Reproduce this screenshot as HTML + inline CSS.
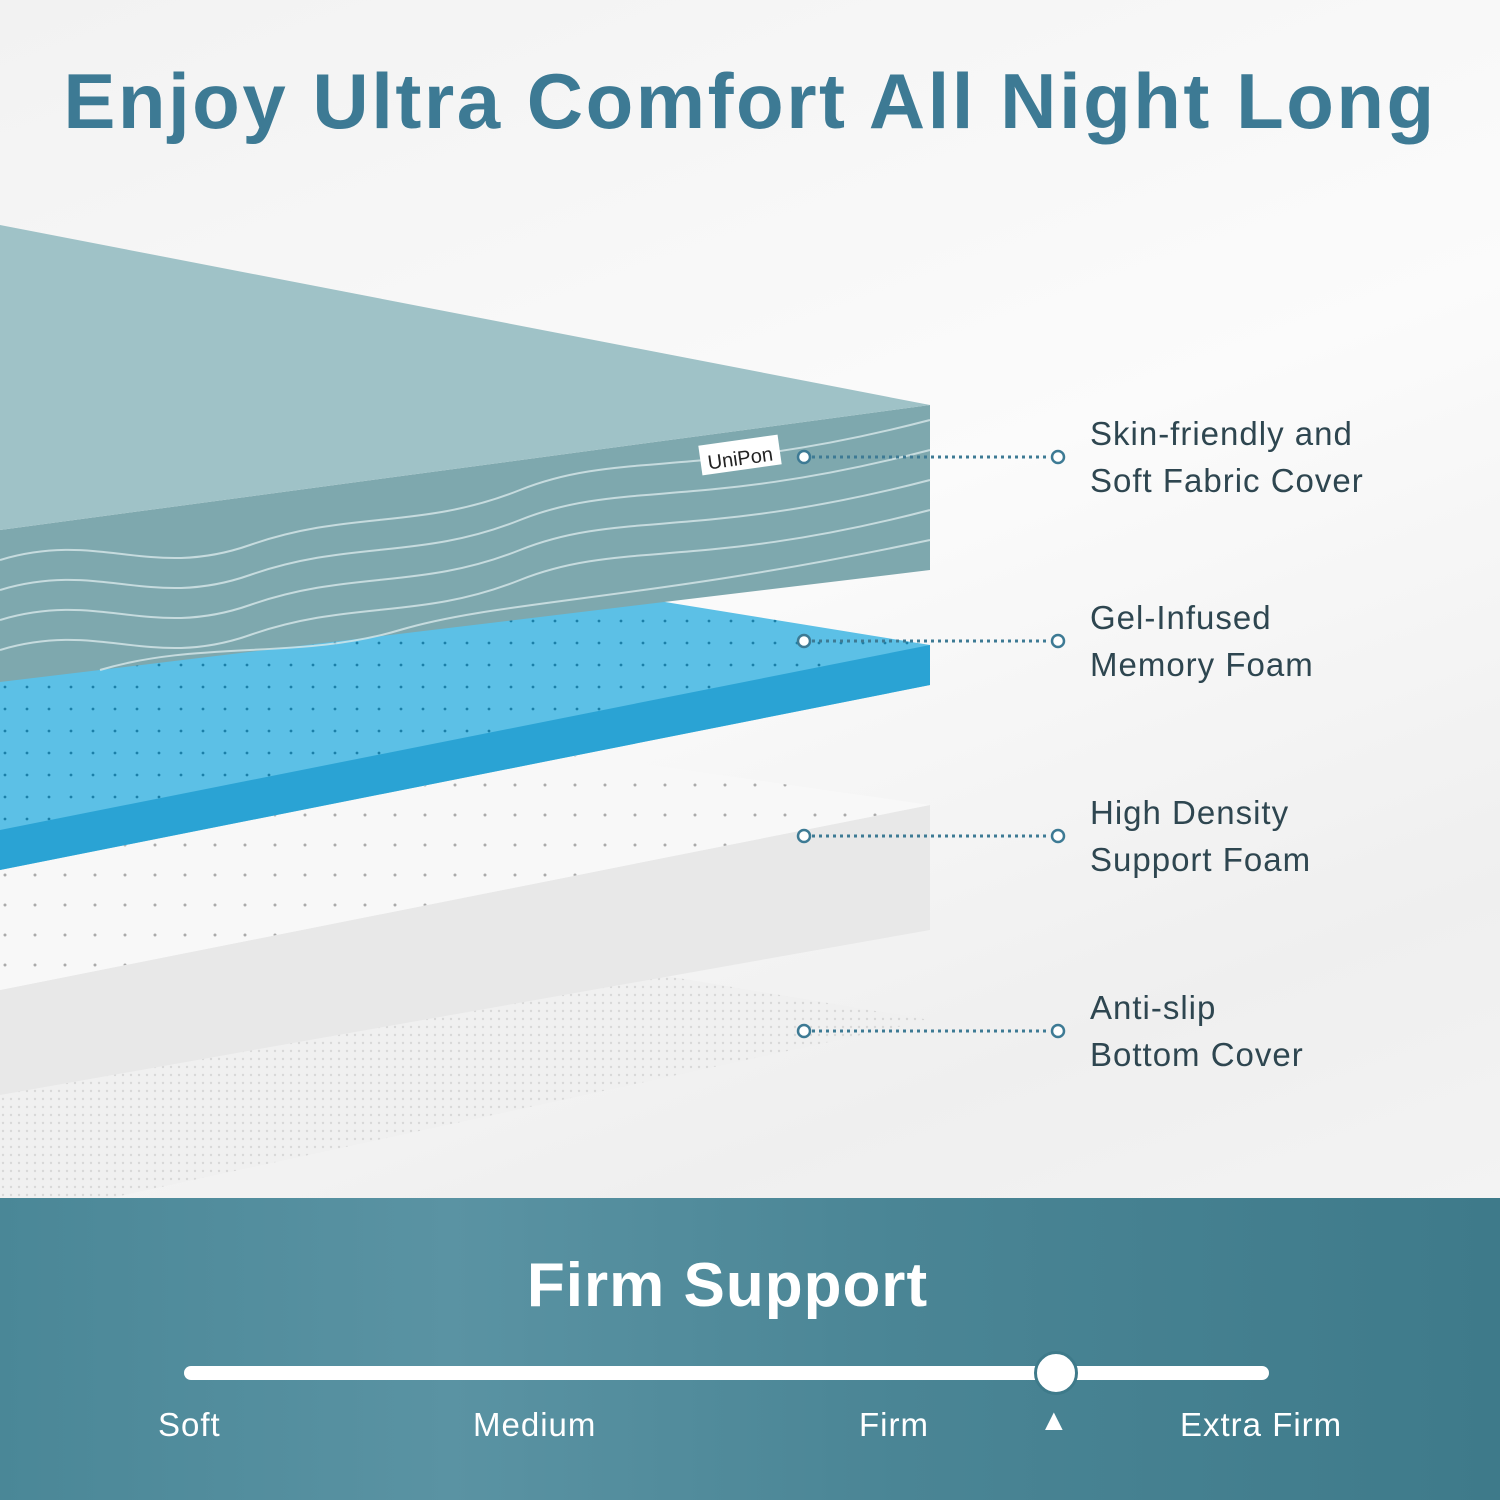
<!DOCTYPE html>
<html><head><meta charset="utf-8"><style>
html,body{margin:0;padding:0}
body{width:1500px;height:1500px;position:relative;overflow:hidden;font-family:"Liberation Sans",sans-serif;background:linear-gradient(160deg,#f2f2f2 0%,#fbfbfb 40%,#efefef 70%,#f7f7f7 100%)}
.t{position:absolute;white-space:nowrap}
h1{position:absolute;top:56px;left:0;width:1500px;text-align:center;margin:0;font-size:78px;font-weight:bold;color:#3d7a94;letter-spacing:2.5px}
.lab{position:absolute;left:1090px;font-size:33px;line-height:47px;color:#2e4650;letter-spacing:1px}
.band{position:absolute;left:0;top:1198px;width:1500px;height:302px;background:linear-gradient(90deg,#4a8797 0%,#5a93a3 30%,#4a8595 60%,#3e7a8a 100%)}
.w{color:#fff;font-size:33px;letter-spacing:1px}
</style></head><body>
<h1>Enjoy Ultra Comfort All Night Long</h1>
<svg width="1500" height="1500" style="position:absolute;left:0;top:0">
<defs>
<pattern id="dots" width="22" height="22" patternUnits="userSpaceOnUse"><circle cx="5" cy="5" r="1.4" fill="#1b7fa8"/></pattern>
<pattern id="dots2" width="30" height="30" patternUnits="userSpaceOnUse"><circle cx="5" cy="5" r="1.5" fill="#aaa"/></pattern>
<pattern id="dots3" width="8" height="8" patternUnits="userSpaceOnUse"><circle cx="3" cy="3" r="1.2" fill="#d8d8d8"/></pattern>
</defs>
<polygon points="0,1095 600,965 930,1020 0,1222" fill="#f0f0f0"/>
<polygon points="0,1095 600,965 930,1020 0,1222" fill="url(#dots3)"/>
<polygon points="0,990 930,805 930,930 0,1095" fill="#e8e8e8"/>
<polygon points="0,870 580,755 930,805 0,990" fill="#f8f8f8"/>
<polygon points="0,870 580,755 930,805 0,990" fill="url(#dots2)"/>
<polygon points="0,680 560,585 930,645 930,685 0,870" fill="#5cc0e6"/>
<polygon points="0,680 560,585 930,645 0,830" fill="url(#dots)"/>
<polygon points="0,830 930,645 930,685 0,870" fill="#2aa3d4"/>
<polygon points="0,530 930,405 930,570 0,682" fill="#7ea8ae"/>
<g stroke="#d8e8ea" stroke-width="2" fill="none" opacity="0.8">
<path d="M0,560 C100,530 150,580 250,545 S420,530 520,490 S700,480 930,420"/>
<path d="M0,590 C100,560 150,610 250,575 S420,560 520,520 S700,510 930,450"/>
<path d="M0,620 C100,590 150,640 250,605 S420,590 520,550 S700,540 930,480"/>
<path d="M0,650 C100,620 150,670 250,635 S420,620 520,580 S700,570 930,510"/>
<path d="M100,670 C200,640 300,660 400,630 S650,600 930,540"/>
</g>
<polygon points="0,225 930,405 0,530" fill="#9fc2c7"/>
<rect x="700" y="440" width="80" height="30" fill="#fff" transform="rotate(-8 740 455)"/>
<text x="707" y="465" font-size="20" fill="#222" transform="rotate(-8 740 455)" font-family="Liberation Sans">UniPon</text>
<g stroke="#3d7a94" stroke-width="3" fill="none">
<line x1="812" y1="457" x2="1050" y2="457" stroke-dasharray="3 4"/>
<line x1="812" y1="641" x2="1050" y2="641" stroke-dasharray="3 4"/>
<line x1="812" y1="836" x2="1050" y2="836" stroke-dasharray="3 4"/>
<line x1="812" y1="1031" x2="1050" y2="1031" stroke-dasharray="3 4"/>
<g stroke-width="2.5" fill="#fff">
<circle cx="804" cy="457" r="6"/><circle cx="1058" cy="457" r="6"/>
<circle cx="804" cy="641" r="6"/><circle cx="1058" cy="641" r="6"/>
<circle cx="804" cy="836" r="6"/><circle cx="1058" cy="836" r="6"/>
<circle cx="804" cy="1031" r="6"/><circle cx="1058" cy="1031" r="6"/>
</g></g>
</svg>
<div class="lab" style="top:410px">Skin-friendly and<br>Soft Fabric Cover</div>
<div class="lab" style="top:594px">Gel-Infused<br>Memory Foam</div>
<div class="lab" style="top:789px">High Density<br>Support Foam</div>
<div class="lab" style="top:984px">Anti-slip<br>Bottom Cover</div>
<div class="band"></div>
<div class="t" style="left:0;width:1455px;text-align:center;top:1250px;font-size:62px;font-weight:bold;color:#fff;letter-spacing:1px">Firm Support</div>
<div style="position:absolute;left:184px;top:1366px;width:1085px;height:14px;border-radius:7px;background:#fff"></div>
<div style="position:absolute;left:1034px;top:1351px;width:38px;height:38px;border-radius:50%;background:#fff;border:3px solid #3e7a8a"></div>
<div class="t w" style="left:158px;top:1406px">Soft</div>
<div class="t w" style="left:473px;top:1406px">Medium</div>
<div class="t w" style="left:859px;top:1406px">Firm</div>
<div class="t w" style="left:1039px;top:1404px;font-size:30px">▲</div>
<div class="t w" style="left:1180px;top:1406px">Extra Firm</div>
</body></html>
